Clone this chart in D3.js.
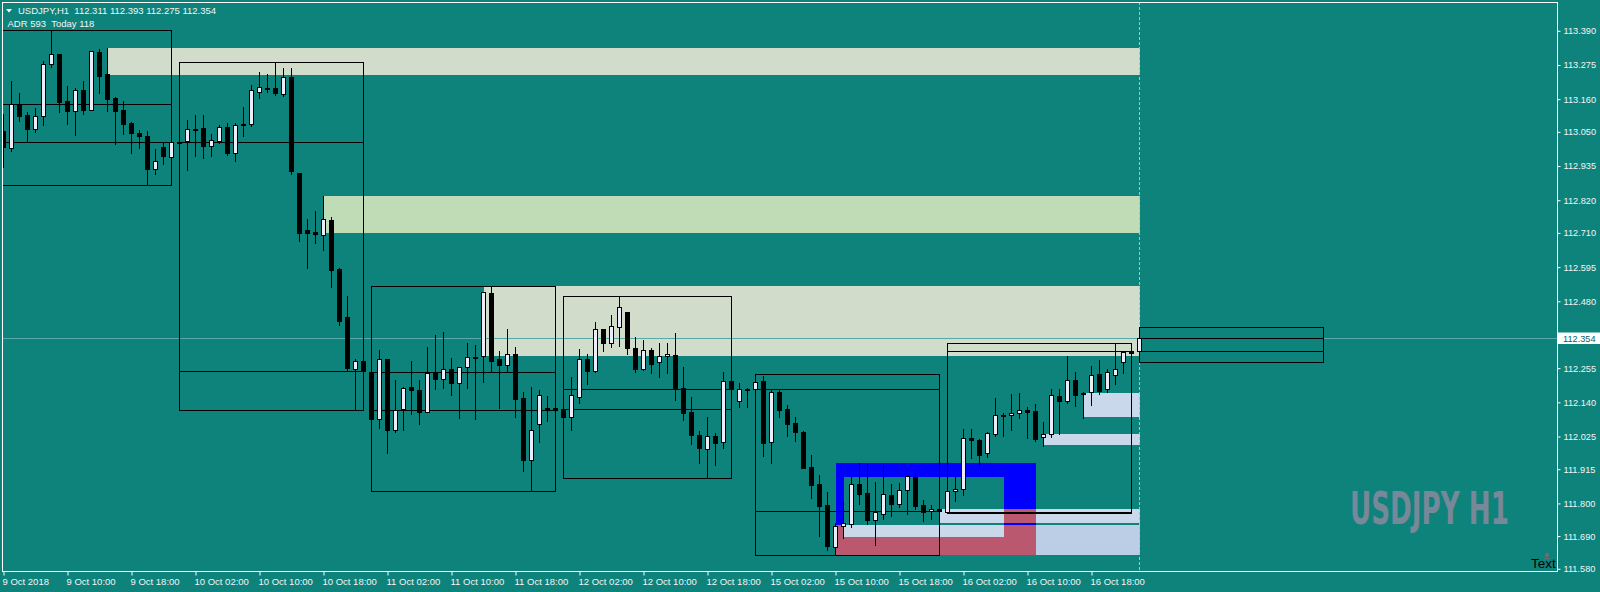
<!DOCTYPE html>
<html><head><meta charset="utf-8">
<script src="https://cdn.jsdelivr.net/npm/d3@7"></script>
<style>html,body{margin:0;padding:0;background:#0e837c;overflow:hidden}</style>
</head><body><svg id="c" width="1600" height="592"></svg>
<script>
// ---------- DATA ----------
const symbolTitle = "USDJPY,H1";
const adrText = "ADR 593  Today 118";
const watermark = "USDJPY H1";
const lastPrice = 112.354;

// H1 candles, bar 0 = 9 Oct 02:00 ... bar 142 = 17 Oct 00:00
const openP = [113.051,112.995,113.141,113.105,113.059,113.103,113.276,113.309,113.152,113.118,113.189,113.123,113.317,113.243,113.161,113.122,113.078,113.045,113.034,112.924,112.997,112.965,113.013,113.017,113.058,113.060,113.002,113.019,113.065,112.977,113.076,113.076,113.184,113.197,113.196,113.177,113.232,112.909,112.718,112.711,112.702,112.752,112.587,112.425,112.251,112.277,112.239,112.083,112.283,112.046,112.115,112.189,112.179,112.107,112.238,112.218,112.250,112.204,112.256,112.290,112.293,112.506,112.283,112.265,112.300,112.152,111.945,112.064,112.119,112.119,112.115,112.090,112.157,112.284,112.245,112.384,112.337,112.393,112.441,112.320,112.251,112.313,112.273,112.293,112.296,112.185,112.105,112.027,111.982,112.024,112.004,112.210,112.142,112.182,112.182,112.210,112.004,112.172,112.115,112.068,112.038,111.920,111.862,111.792,111.653,111.723,111.730,111.862,111.833,111.743,111.764,111.826,111.797,111.842,111.887,111.793,111.772,111.778,111.770,111.840,111.846,112.017,112.012,111.967,112.033,112.095,112.095,112.101,112.112,112.109,112.021,112.031,112.160,112.144,112.212,112.170,112.172,112.234,112.182,112.229,112.273,112.310,112.311];
const highP = [113.108,113.220,113.179,113.115,113.128,113.286,113.388,113.310,113.203,113.195,113.220,113.321,113.326,113.330,113.165,113.152,113.082,113.055,113.051,112.991,113.012,113.015,113.017,113.088,113.105,113.105,113.040,113.071,113.078,113.078,113.132,113.206,113.250,113.243,113.283,113.263,113.263,112.911,112.755,112.782,112.833,112.761,112.589,112.496,112.284,112.281,112.247,112.315,112.285,112.214,112.189,112.277,112.212,112.325,112.365,112.375,112.287,112.258,112.338,112.331,112.510,112.530,112.311,112.385,112.325,112.173,112.190,112.179,112.160,112.129,112.119,112.224,112.318,112.301,112.409,112.386,112.432,112.496,112.443,112.357,112.348,112.320,112.338,112.338,112.372,112.257,112.156,112.041,112.089,112.034,112.239,112.240,112.202,112.186,112.208,112.227,112.180,112.181,112.128,112.089,112.041,111.960,111.893,111.836,111.732,111.802,111.887,111.933,111.931,111.870,111.927,111.862,111.866,111.891,111.899,111.810,111.793,111.779,111.840,111.888,112.049,112.049,112.014,112.038,112.153,112.102,112.166,112.170,112.122,112.133,112.071,112.183,112.183,112.294,112.240,112.174,112.261,112.281,112.251,112.337,112.312,112.311,112.393];
const lowP = [112.931,112.985,113.086,113.019,113.049,113.071,113.268,113.116,113.075,113.038,113.108,113.121,113.179,113.120,113.007,113.042,112.976,112.995,112.870,112.907,112.940,112.963,113.010,112.920,112.967,112.961,112.967,113.011,112.970,112.950,113.034,113.068,113.162,113.183,113.172,113.169,112.907,112.681,112.590,112.675,112.651,112.526,112.398,112.247,112.114,112.240,112.075,112.053,111.969,112.040,112.046,112.100,112.066,112.105,112.184,112.187,112.164,112.086,112.187,112.083,112.208,112.241,112.120,112.241,112.090,111.907,111.842,112.006,112.076,112.099,112.087,112.046,112.137,112.201,112.241,112.312,112.325,112.329,112.302,112.241,112.248,112.237,112.224,112.237,112.147,112.080,111.999,111.934,111.884,111.927,111.986,112.173,112.124,112.124,112.180,111.958,111.935,112.090,112.025,112.008,111.916,111.817,111.689,111.642,111.624,111.683,111.720,111.797,111.730,111.658,111.746,111.757,111.787,111.764,111.780,111.739,111.747,111.771,111.765,111.807,111.827,111.952,111.929,111.955,112.025,112.025,112.046,112.085,112.018,112.009,111.992,112.021,112.032,112.137,112.126,112.086,112.130,112.167,112.172,112.200,112.238,112.304,112.275];
const closeP = [112.998,113.141,113.103,113.059,113.103,113.276,113.309,113.150,113.120,113.189,113.123,113.319,113.237,113.159,113.120,113.076,113.046,113.035,112.924,112.950,112.968,113.013,113.014,113.058,113.057,113.002,113.020,113.065,112.977,113.071,113.072,113.189,113.198,113.195,113.179,113.232,112.918,112.709,112.709,112.706,112.754,112.583,112.413,112.254,112.277,112.245,112.083,112.283,112.046,112.112,112.185,112.181,112.107,112.238,112.218,112.250,112.204,112.256,112.290,112.289,112.508,112.278,112.265,112.300,112.150,111.945,112.044,112.162,112.117,112.112,112.090,112.162,112.284,112.245,112.384,112.339,112.394,112.458,112.322,112.251,112.313,112.268,112.293,112.300,112.182,112.103,112.029,111.986,112.024,112.002,112.209,112.182,112.182,112.180,112.206,112.002,112.172,112.112,112.066,112.040,111.918,111.861,111.790,111.656,111.723,111.731,111.862,111.830,111.743,111.768,111.829,111.796,111.842,111.889,111.790,111.771,111.778,111.772,111.839,111.846,112.017,112.013,111.962,112.034,112.095,112.096,112.101,112.112,112.107,112.016,112.031,112.162,112.144,112.212,112.164,112.165,112.229,112.177,112.239,112.250,112.307,112.305,112.354];

// price axis labels
const yTickLabels = ["113.390","113.275","113.160","113.050","112.935","112.820","112.710","112.595","112.480","112.365","112.255","112.140","112.025","111.915","111.800","111.690","111.580"];
// time axis labels and their bar numbers
const xTickBars = [0,8,16,24,32,40,48,56,64,72,80,88,96,104,112,120,128,136];
const xTickLabels = ["9 Oct 2018","9 Oct 10:00","9 Oct 18:00","10 Oct 02:00","10 Oct 10:00","10 Oct 18:00","11 Oct 02:00","11 Oct 10:00","11 Oct 18:00","12 Oct 02:00","12 Oct 10:00","12 Oct 18:00","15 Oct 02:00","15 Oct 10:00","15 Oct 18:00","16 Oct 02:00","16 Oct 10:00","16 Oct 18:00"];

// daily range boxes (bar index of first / last hour of each day)
const dayStart = [-2,22,46,70,94,118,142];
const dayEnd   = [21,45,69,91,117,141,165];
const dayHigh  = [113.390,113.283,112.530,112.496,112.233,112.337,112.393];
const dayLow   = [112.870,112.114,111.840,111.884,111.624,111.765,112.275];
const dayOpen  = [113.141,113.013,112.239,112.115,112.182,111.770,112.311];
const dayClose = [113.013,112.245,112.112,112.182,111.772,112.310,112.354];

// supply / demand zones
const zoneStart = [13,40,60,135,130,117,105,129,104,125,104,104,104,125,125];
const zoneEnd   = [142,142,142,142,142,142,125,142,129,129,105,129,105,129,129];
const zoneTop   = [113.331,112.833,112.530,112.170,112.032,111.779,111.725,111.725,111.686,111.779,111.725,111.933,111.933,111.933,111.733];
const zoneBot   = [113.241,112.709,112.295,112.090,111.996,111.733,111.686,111.624,111.624,111.686,111.686,111.888,111.725,111.779,111.725];
const zoneKind  = ["supply","supply2","supply","demand","demand","demand","demand","demand2","overlap","overlap","overlap","blue","blue","blue","blue"];

// ---------- STYLE ----------
const BG = "#0e837c";
const kindColor = {supply:"#d1dccb", supply2:"#bfdcb7", demand:"#c9d8ea", demand2:"#bccee6", overlap:"#ba5870", blue:"#0000ff"};
const L = 2, R = 1557, T = 2, B = 571;

const svg = d3.select("#c");
svg.append("rect").attr("width",1600).attr("height",592).attr("fill",BG);

const x = d3.scaleLinear().domain([0,142]).range([3.5,1139.5]);
const y = d3.scaleLinear().domain([111.58,113.39]).range([568.3,30.3]);

svg.append("defs").append("clipPath").attr("id","clip")
  .append("rect").attr("x",L+1).attr("y",T+1).attr("width",R-L-1).attr("height",B-T-1);

const plot = svg.append("g").attr("clip-path","url(#clip)").attr("shape-rendering","crispEdges");

// zones
const zones = zoneStart.map((s,i)=>({s,e:zoneEnd[i],t:zoneTop[i],b:zoneBot[i],k:zoneKind[i]}));
plot.selectAll("rect.zone").data(zones).join("rect").attr("class","zone")
  .attr("x",d=>Math.round(x(d.s)))
  .attr("width",d=>Math.round(x(d.e))-Math.round(x(d.s)))
  .attr("y",d=>Math.round(y(d.t)))
  .attr("height",d=>Math.round(y(d.b))-Math.round(y(d.t)))
  .attr("fill",d=>kindColor[d.k]);

// current price line
plot.append("line").attr("x1",L).attr("x2",R)
  .attr("y1",Math.round(y(lastPrice))+0.5).attr("y2",Math.round(y(lastPrice))+0.5)
  .attr("stroke","#58aaa8").attr("stroke-width",1);

// shift (current bar) dashed line
plot.append("line").attr("x1",x(142)).attr("x2",x(142)).attr("y1",T).attr("y2",B)
  .attr("stroke","#a9c3c1").attr("stroke-dasharray","3,2");

// day boxes
const days = dayStart.map((s,i)=>({s,e:dayEnd[i],h:dayHigh[i],l:dayLow[i],o:dayOpen[i],c:dayClose[i]}));
const px = v=>Math.round(v)+0.5;
const dg = plot.selectAll("g.day").data(days).join("g").attr("class","day");
dg.append("rect").attr("x",d=>x(d.s)).attr("width",d=>x(d.e)-x(d.s))
  .attr("y",d=>px(y(d.h))).attr("height",d=>Math.round(y(d.l))-Math.round(y(d.h)))
  .attr("fill","none").attr("stroke","#000");
dg.append("line").attr("x1",d=>x(d.s)).attr("x2",d=>x(d.e))
  .attr("y1",d=>px(y(d.o))).attr("y2",d=>px(y(d.o))).attr("stroke","#000");
dg.append("line").attr("x1",d=>x(d.s)).attr("x2",d=>x(d.e))
  .attr("y1",d=>px(y(d.c))).attr("y2",d=>px(y(d.c))).attr("stroke","#000");

// candles
const candles = openP.map((o,i)=>({i,o,h:highP[i],l:lowP[i],c:closeP[i]}));
plot.selectAll("line.wick").data(candles).join("line").attr("class","wick")
  .attr("x1",d=>x(d.i)).attr("x2",d=>x(d.i))
  .attr("y1",d=>Math.round(y(d.h))).attr("y2",d=>Math.round(y(d.l))+1)
  .attr("stroke","#000");
plot.selectAll("rect.body").data(candles).join("rect").attr("class","body")
  .attr("x",d=>x(d.i)-2).attr("width",4)
  .attr("y",d=>Math.round(y(Math.max(d.o,d.c)))+0.5)
  .attr("height",d=>Math.max(1,Math.round(y(Math.min(d.o,d.c)))-Math.round(y(Math.max(d.o,d.c)))))
  .attr("fill",d=>d.c>d.o?"#ececf8":"#000").attr("stroke","#000");

// watermark (condensed by horizontal scaling to fit its box)
const wm = svg.append("text").attr("x",0).attr("y",0).text(watermark)
  .attr("font-family","'DejaVu Sans Condensed','Liberation Sans Narrow','DejaVu Sans',sans-serif")
  .attr("font-weight","bold").attr("font-size",45).attr("fill","#778899");
const wmLen = wm.node().getComputedTextLength() || 159;
wm.attr("transform",`translate(1350,523.5) scale(${159/wmLen},1)`);

// "Text" label with small icon
svg.append("circle").attr("cx",1547).attr("cy",555).attr("r",2.2).attr("fill","#6e6e6e");
svg.append("line").attr("x1",1544.5).attr("x2",1549.5).attr("y1",558.5).attr("y2",558.5).attr("stroke","#6e6e6e");
svg.append("text").attr("x",1531).attr("y",567.5).text("Text")
  .attr("font-family","'Liberation Sans',Arial,sans-serif").attr("font-size",13.5).attr("fill","#000");

// plot frame
svg.append("rect").attr("x",L+0.5).attr("y",T+0.5).attr("width",R-L).attr("height",B-T)
  .attr("fill","none").attr("stroke","#fff").attr("shape-rendering","crispEdges");

// price axis
const yAxis = d3.axisRight(y).tickValues(yTickLabels.map(Number)).tickFormat((d,i)=>yTickLabels[i]).tickSize(3).tickPadding(3);
const ya = svg.append("g").attr("transform",`translate(${R+0.5},0.5)`).call(yAxis);
ya.select(".domain").remove();
ya.selectAll("line").attr("stroke","#fff");
ya.selectAll("text").attr("fill","#f4f4f4").attr("font-family","'Liberation Sans',Arial,sans-serif").attr("font-size",9.2);

// last price tag
svg.append("rect").attr("x",R+1).attr("y",Math.round(y(lastPrice))-5.5).attr("width",43).attr("height",11.5).attr("fill","#fff");
svg.append("text").attr("x",R+6).attr("y",Math.round(y(lastPrice))+3.5).text(d3.format(".3f")(lastPrice))
  .attr("fill","#0b5f5b").attr("font-family","'Liberation Sans',Arial,sans-serif").attr("font-size",9.2);

// time axis
const xAxis = d3.axisBottom(x).tickValues(xTickBars).tickFormat((d,i)=>xTickLabels[i]).tickSize(4).tickPadding(3);
const xa = svg.append("g").attr("transform",`translate(0,${B+0.5})`).call(xAxis);
xa.select(".domain").remove();
xa.selectAll("line").attr("stroke","#fff");
xa.selectAll("text").attr("fill","#f4f4f4").attr("text-anchor","start").attr("dx","-1.5")
  .attr("font-family","'Liberation Sans',Arial,sans-serif").attr("font-size",9.5);

// header
svg.append("path").attr("d","M6,9 L12,9 L9,12.5 Z").attr("fill","#fff");
const fmt = d3.format(".3f");
svg.append("text").attr("x",18).attr("y",14)
  .text(`${symbolTitle}  ${fmt(openP[142])} ${fmt(highP[142])} ${fmt(lowP[142])} ${fmt(closeP[142])}`)
  .attr("fill","#f4f4f4").attr("font-family","'Liberation Sans',Arial,sans-serif").attr("font-size",9.5)
  .style("white-space","pre");
svg.append("text").attr("x",7.5).attr("y",27).text(adrText)
  .attr("fill","#f4f4f4").attr("font-family","'Liberation Sans',Arial,sans-serif").attr("font-size",9.5)
  .style("white-space","pre");
</script>
</body></html>
